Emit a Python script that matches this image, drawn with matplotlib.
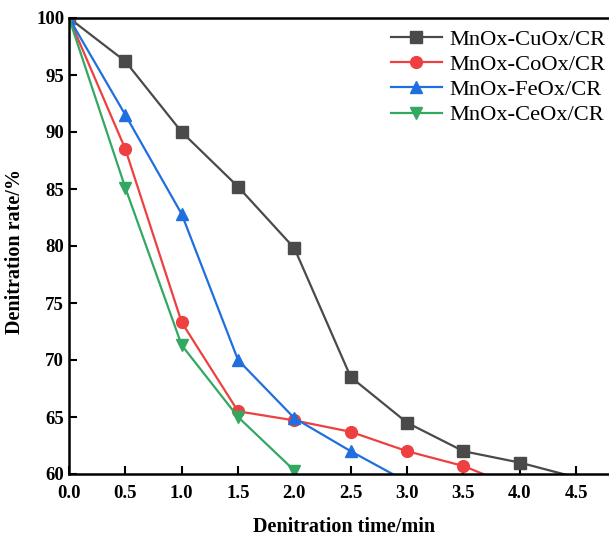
import matplotlib
matplotlib.use("Agg")
import matplotlib.pyplot as plt

time_min = [0.0, 0.5, 1.0, 1.5, 2.0, 2.5, 3.0, 3.5, 4.0, 4.5]
cu = [100, 96.2, 90.0, 85.2, 79.8, 68.5, 64.5, 62.0, 61.0, 59.7]
co = [100, 88.5, 73.3, 65.5, 64.7, 63.7, 62.0, 60.7, 58.7]
fe = [100, 91.5, 82.8, 70.0, 64.9, 62.0, 59.3]
ce = [100, 85.1, 71.3, 65.0, 60.3]

labels = ["MnOx-CuOx/CR", "MnOx-CoOx/CR", "MnOx-FeOx/CR", "MnOx-CeOx/CR"]
colors = ["#4a4a4a", "#ee4040", "#1f6fde", "#33a863"]
markers = ["s", "o", "^", "v"]
series = [cu, co, fe, ce]
xticks = [0.0, 0.5, 1.0, 1.5, 2.0, 2.5, 3.0, 3.5, 4.0, 4.5]
yticks = [60, 65, 70, 75, 80, 85, 90, 95, 100]

plt.rcParams['font.family'] = ['Liberation Serif', 'DejaVu Serif']

fig = plt.figure(figsize=(6.09, 5.38), dpi=100)
ax = fig.add_axes([69/609, 1-474/538, 1-69/609, (474-18)/538])

for y, lab, c, m in zip(series, labels, colors, markers):
    shown = [i for i, v in enumerate(y) if v >= 60]
    ax.plot(time_min[:len(y)], y, color=c, marker=m, markersize=8.5, lw=1.6,
            label=lab, markevery=shown)

ax.set_xlim(0, 540/112.7)
ax.set_ylim(60, 100)
ax.set_xticks(xticks)
ax.set_xticklabels([f"{v:.1f}" for v in xticks])
ax.set_yticks(yticks)
ax.tick_params(direction='in', width=1.5, length=6, labelsize=13.5)
ax.tick_params(axis='x', pad=8)
for lbl in ax.get_xticklabels() + ax.get_yticklabels():
    lbl.set_fontweight('bold')
for s in ['left', 'bottom', 'top']:
    ax.spines[s].set_linewidth(1.8)
ax.spines['right'].set_visible(False)
ax.set_xlabel("Denitration time/min", fontsize=14.5, fontweight='bold', labelpad=11)
ax.set_ylabel("Denitration rate/%", fontsize=14.5, fontweight='bold', labelpad=8)
ax.xaxis.label.set_x((344-69)/540)
ax.yaxis.label.set_y((474-251)/456)

leg = ax.legend(loc='upper left', bbox_to_anchor=(391/609, 1-29/538),
                bbox_transform=fig.transFigure, frameon=False, fontsize=16.2,
                handlelength=2.25, labelspacing=0.2, handletextpad=0.35,
                borderaxespad=0, borderpad=0)

fig.savefig("out.png", dpi=100)
